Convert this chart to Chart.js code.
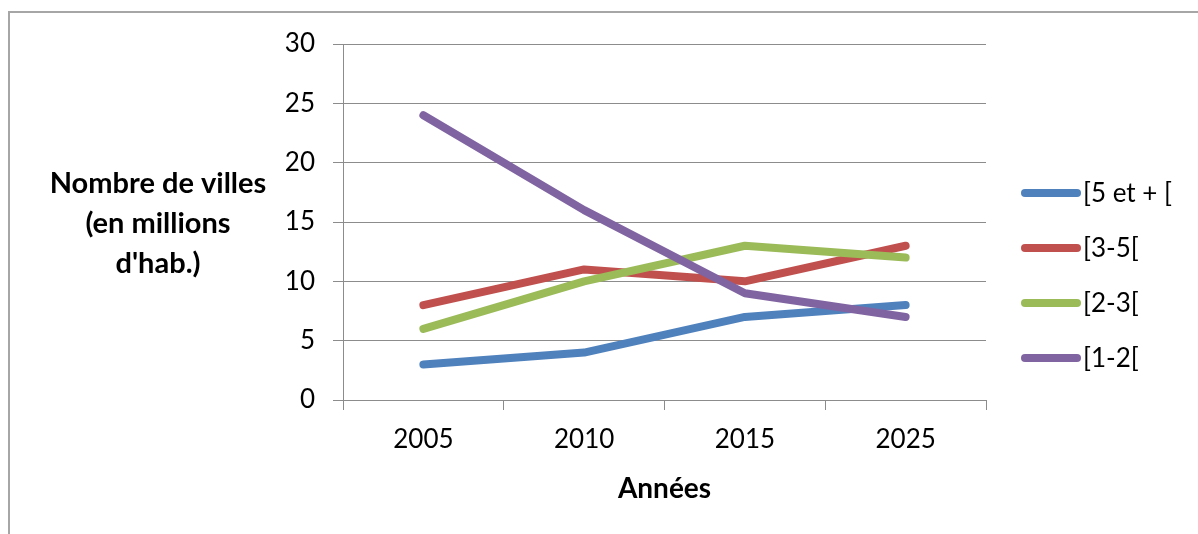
<!DOCTYPE html>
<html>
<head>
<meta charset="utf-8">
<script src="https://cdn.jsdelivr.net/npm/chart.js@4/dist/chart.umd.min.js"></script>
<style>
  html, body { margin: 0; padding: 0; background: #fff; }
  #wrap { width: 1198px; height: 534px; position: relative; }
</style>
</head>
<body>
<div id="wrap"><canvas id="chart" width="1198" height="534"></canvas></div>
<script>
// categories and series
const years = ["2005", "2010", "2015", "2025"];
const seriesNames = ["[5 et + [", "[3-5[", "[2-3[", "[1-2["];
const plus5 = [3, 4, 7, 8];
const from3to5 = [8, 11, 10, 13];
const from2to3 = [6, 10, 13, 12];
const from1to2 = [24, 16, 9, 7];
const yTicks = [0, 5, 10, 15, 20, 25, 30];

const colors = ["#4f81bd", "#c0504d", "#9bbb59", "#8064a2"];
const FONT = "Lato, 'Open Sans', sans-serif";
const gridColor = "#8c8c8c";

const allValues = [plus5, from3to5, from2to3, from1to2];

// frame, y title and legend drawn by hand
const extras = {
  id: "extras",
  beforeDraw(chart) {
    const ctx = chart.ctx;
    ctx.save();
    ctx.strokeStyle = "#a6a6a6";
    ctx.lineWidth = 2;
    ctx.strokeRect(9, 12, 1400, 700);
    ctx.restore();
  },
  afterDraw(chart) {
    const ctx = chart.ctx;
    ctx.save();
    // y title
    ctx.fillStyle = "#000";
    ctx.font = "bold 29px " + FONT;
    ctx.textAlign = "center";
    ctx.textBaseline = "middle";
    ["Nombre de villes", "(en millions", "d'hab.)"].forEach((t, i) => {
      ctx.fillText(t, 158, 184 + i * 40);
    });
    // legend
    ctx.font = "26px " + FONT;
    ctx.textAlign = "left";
    chart.data.datasets.forEach((ds, i) => {
      const y = 193 + i * 55;
      ctx.strokeStyle = ds.borderColor;
      ctx.lineWidth = 8;
      ctx.lineCap = "round";
      ctx.beginPath();
      ctx.moveTo(1025, y);
      ctx.lineTo(1077, y);
      ctx.stroke();
      ctx.fillStyle = "#000";
      ctx.fillText(ds.label, 1083, y + 1);
    });
    ctx.restore();
  }
};

new Chart(document.getElementById("chart"), {
  type: "line",
  data: {
    labels: years,
    datasets: seriesNames.map((name, i) => ({
      label: name,
      data: allValues[i],
      borderColor: colors[i],
      backgroundColor: colors[i],
      borderWidth: 8,
      borderCapStyle: "round",
      borderJoinStyle: "round",
      pointRadius: 0,
      tension: 0,
      order: 3 - i
    }))
  },
  options: {
    responsive: false,
    animation: false,
    layout: { padding: { left: 0, top: 44, right: 212, bottom: 0 } },
    plugins: {
      legend: { display: false },
      tooltip: { enabled: false }
    },
    scales: {
      x: {
        offset: true,
        grid: {
          offset: true,
          drawOnChartArea: false,
          tickLength: 10,
          color: gridColor
        },
        border: { color: gridColor, width: 1 },
        ticks: {
          color: "#000",
          font: { family: FONT, size: 26 },
          padding: 14,
          maxRotation: 0
        },
        title: {
          display: true,
          text: "Années",
          color: "#000",
          font: { family: FONT, size: 28, weight: "bold" },
          padding: { top: 12, bottom: 28 }
        },
        afterFit(s) { s.height = 134; }
      },
      y: {
        min: 0,
        max: 30,
        afterBuildTicks(s) { s.ticks = yTicks.map(v => ({ value: v })); },
        grid: { color: gridColor, tickLength: 10 },
        border: { color: gridColor, width: 1 },
        ticks: {
          color: "#000",
          font: { family: FONT, size: 26 },
          padding: 18
        },
        afterFit(s) { s.width = 343; }
      }
    }
  },
  plugins: [extras]
});
</script>
</body>
</html>
